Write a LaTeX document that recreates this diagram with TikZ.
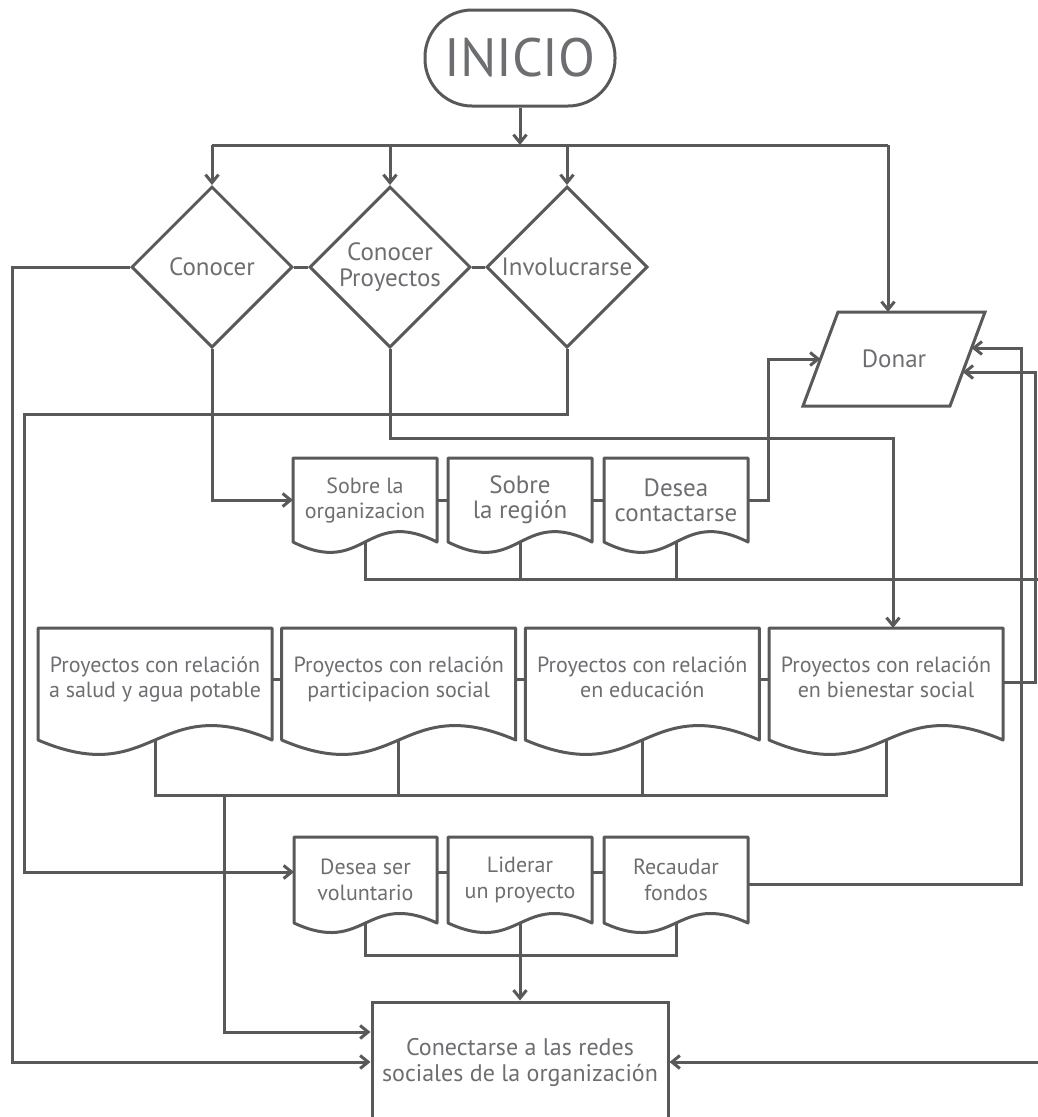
\documentclass[tikz,border=0pt]{standalone}
\usepackage{fontspec}
\setmainfont{PT Sans}
\usetikzlibrary{arrows.meta,shapes.geometric,calc}
\definecolor{lc}{HTML}{58595B}
\definecolor{tc}{HTML}{6D6E71}
\tikzset{
  ln/.style={draw=lc, line width=3pt},
  arr/.style={ln, -{Straight Barb[length=8pt,width=13pt]}},
  dec/.style={diamond, draw=lc, line width=3pt, minimum width=161pt, minimum height=161pt, inner sep=0pt},
  lbl/.style={text=tc, align=center, inner sep=0pt},
  docbox/.style={draw=none, text=tc, align=center, inner sep=0pt, outer sep=0pt},
  fA/.style={font=\fontsize{22}{25}\selectfont},
  fB/.style={font=\fontsize{25}{25}\selectfont},
  fC/.style={font=\fontsize{22}{26}\selectfont},
}
\newcommand\docoutline[2]{\draw[ln, line join=round] (#1.south east) -- (#1.north east) -- (#1.north west) -- (#1.south west) .. controls ($(#1.south)+(0,#2)$) and ($(#1.south)+(0,-#2)$) .. (#1.south east) -- cycle;}
\begin{document}
\begin{tikzpicture}[x=1pt,y=-1pt]
\useasboundingbox (0,0) rectangle (1038,1117);
\clip (0,0) rectangle (1038,1117);

% start
\node[draw=lc, line width=3pt, rounded corners=47pt, minimum width=190pt, minimum height=96pt,
      text=tc, font=\fontsize{54}{60}\selectfont, inner sep=0pt] (inicio) at (520,58) {INICIO};
\coordinate (bus) at (0,145);

% decisions
\node[dec] (d1) at (212,267) {};
\node[dec] (d2) at (390,267) {};
\node[dec] (d3) at (567,267) {};
\node[lbl, font=\fontsize{25}{26}\selectfont] (t1) at (d1) {Conocer};
\node[lbl, font=\fontsize{25}{26}\selectfont] (t2) at (d2) {Conocer\\Proyectos};
\node[lbl, font=\fontsize{25}{26}\selectfont] (t3) at (d3) {Involucrarse};

% Donar
\node[lbl, font=\fontsize{25}{26}\selectfont] (donar) at (894,359) {Donar};
\coordinate (dTL) at (838,312);
\coordinate (dTR) at (985,312);
\coordinate (dBR) at (950,406);
\coordinate (dBL) at (803,406);
\draw[ln] (dTL) -- (dTR) -- (dBR) -- (dBL) -- cycle;
\coordinate (dT) at (888,312);
\coordinate (dL) at (820.5,359);
\coordinate (dR1) at (971.6,348);
\coordinate (dR2) at (962.7,372);

% row 1
\node[docbox, fA, minimum width=144pt, minimum height=84pt] (s1) at (365,500) {Sobre la\\organizacion};
\node[docbox, fB, minimum width=144pt, minimum height=84pt] (s2) at (520,500) {Sobre\\la región};
\node[docbox, fB, minimum width=144pt, minimum height=84pt] (s3) at (676,500) {Desea\\contactarse};
\docoutline{s1}{36}
\docoutline{s2}{36}
\docoutline{s3}{36}

% row 2
\tikzset{prow/.style={docbox, fA, minimum width=234pt, minimum height=112pt, text depth=13pt}}
\node[prow] (p1) at (155,684) {Proyectos con relación\\a salud y agua potable};
\node[prow] (p2) at (398.7,684) {Proyectos con relación\\participacion social};
\node[prow] (p3) at (642.3,684) {Proyectos con relación\\en educación};
\node[prow] (p4) at (886,684) {Proyectos con relación\\en bienestar social};
\docoutline{p1}{50}
\docoutline{p2}{50}
\docoutline{p3}{50}
\docoutline{p4}{50}

% row 3
\node[docbox, fC, minimum width=143pt, minimum height=86pt] (v1) at (365.5,880) {Desea ser\\voluntario};
\node[docbox, fC, minimum width=144pt, minimum height=86pt] (v2) at (520,880) {Liderar\\un proyecto};
\node[docbox, fC, minimum width=144pt, minimum height=86pt] (v3) at (676,880) {Recaudar\\fondos};
\docoutline{v1}{33}
\docoutline{v2}{33}
\docoutline{v3}{33}

% final
\node[draw=lc, line width=3pt, minimum width=296pt, minimum height=120pt, text=tc,
      align=center, font=\fontsize{24}{26}\selectfont, inner sep=0pt] (conect) at (520,1062)
      {Conectarse a las redes\\sociales de la organización};

% connectors from start
\draw[arr] (inicio.south) -- (inicio.south |- bus);
\draw[ln] (d1 |- bus) -- (dT |- bus);
\draw[arr] (d1 |- bus) -- (d1.north);
\draw[arr] (d2 |- bus) -- (d2.north);
\draw[arr] (d3 |- bus) -- (d3.north);
\draw[arr] (dT |- bus) -- (dT);
\draw[ln] (d1.east) -- (d2.west);
\draw[ln] (d2.east) -- (d3.west);

% decision outputs
\draw[arr] (d1.west) -- (12,267) -- (12,1062) -- (conect.west);
\draw[arr] (d1.south) |- (s1.west);
\draw[arr] (d2.south) |- (893,438) -- ([xshift=7pt]p4.north);
\draw[arr] (d3.south) |- (24,414) |- ([yshift=8pt]v1.west);

% row 1 links
\draw[ln] (s1.east) -- (s2.west);
\draw[ln] (s2.east) -- (s3.west);
\draw[arr] (s3.east) -- (768,500) |- (dL);
\coordinate (r1) at (1045,579);
\draw[ln] (s1.south) |- (r1);
\draw[ln] (s2.south) -- (s2.south |- r1);
\draw[ln] (s3.south) -- (s3.south |- r1);

% row 2 links
\draw[ln] ([yshift=5pt]p1.east) -- ([yshift=5pt]p2.west);
\draw[ln] ([yshift=5pt]p2.east) -- ([yshift=5pt]p3.west);
\draw[ln] ([yshift=5pt]p3.east) -- ([yshift=5pt]p4.west);
\draw[arr] ([yshift=2pt]p4.east) -- (1035,682) |- (dR2);
\coordinate (r2) at (0,795);
\draw[ln] (p1.south) |- (p4.south |- r2) -- (p4.south);
\draw[ln] (p2.south) -- (p2.south |- r2);
\draw[ln] (p3.south) -- (p3.south |- r2);
\coordinate (j2) at (224,795);
\draw[arr] (j2) |- ([yshift=30pt]conect.west);

% row 3 links
\draw[ln] ([yshift=8pt]v1.east) -- ([yshift=8pt]v2.west);
\draw[ln] ([yshift=8pt]v2.east) -- ([yshift=8pt]v3.west);
\draw[arr] ([yshift=-4pt]v3.east) -| (1021,348) -- (dR1);
\coordinate (r3) at (0,955);
\draw[ln] (v1.south) |- (v3.south |- r3) -- (v3.south);
\draw[arr] (v2.south) -- (conect.north);
\coordinate (rin) at (1045,1062);
\draw[arr] (rin) -- (conect.east);
\end{tikzpicture}
\end{document}
